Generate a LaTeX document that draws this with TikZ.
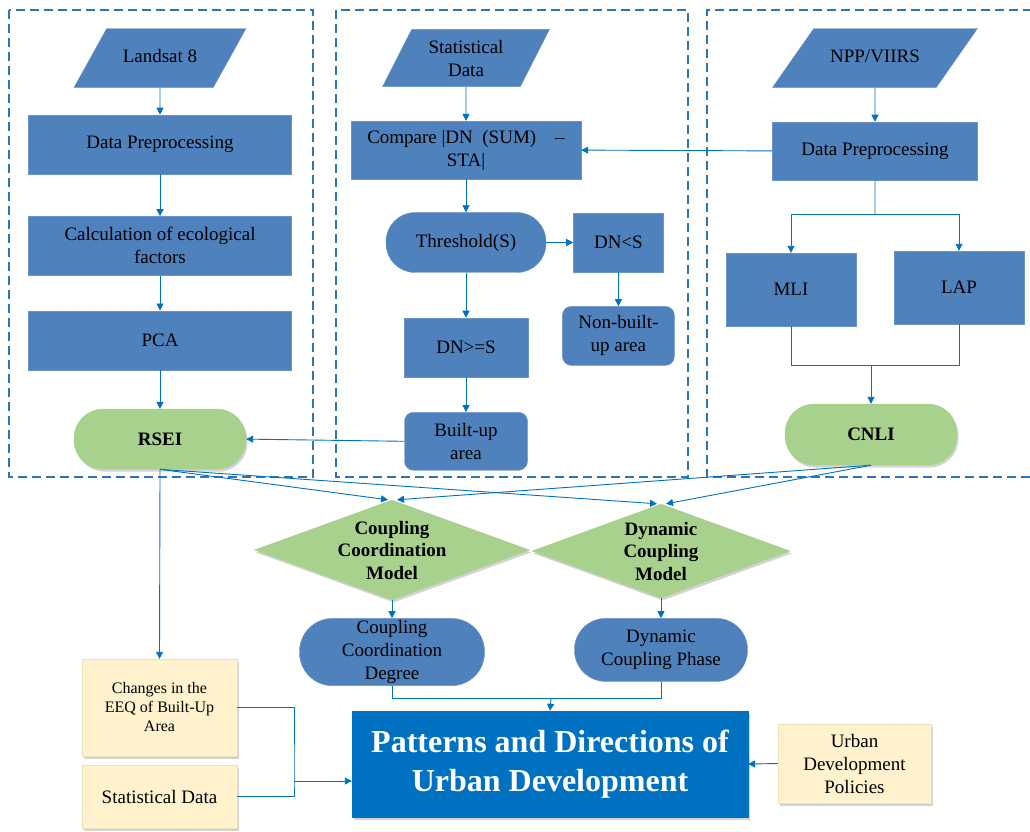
\documentclass[tikz,border=0pt]{standalone}
\usepackage{fontspec}
\setmainfont{Liberation Serif}
\usetikzlibrary{arrows.meta,positioning,shapes.geometric,shadows}
\definecolor{boxblue}{HTML}{4F81BD}
\definecolor{linkblue}{HTML}{0070C0}
\definecolor{dashblue}{HTML}{2E75B6}
\definecolor{leafgreen}{HTML}{A9D18E}
\definecolor{notecream}{HTML}{FFF2CC}
\tikzset{
	panel/.style={draw=dashblue, line width=1.3pt, dash pattern=on 9pt off 5pt},
	procbox/.style={
		rectangle, fill=boxblue, draw=boxblue!85!white,
		text=black, align=center, inner sep=2pt,
		font=\fontsize{19}{23}\selectfont
	},
	source/.style={
		procbox, trapezium, trapezium left angle=61, trapezium right angle=119,
		trapezium stretches body, inner xsep=2pt, inner ysep=21pt,
		text height=13pt, text depth=4pt
	},
	pill/.style={procbox, rounded corners=29pt},
	greenpill/.style={
		pill, fill=leafgreen, draw=leafgreen,
		font=\bfseries\fontsize{19}{23}\selectfont,
		drop shadow={shadow xshift=1.5pt, shadow yshift=-2.5pt, opacity=0.35}
	},
	decision/.style={
		diamond, fill=leafgreen, draw=leafgreen, inner sep=0pt,
		drop shadow={shadow xshift=1.5pt, shadow yshift=-2.5pt, opacity=0.35}
	},
	decisiontext/.style={font=\bfseries\fontsize{19}{22.5}\selectfont, align=center},
	notebox/.style={
		rectangle, fill=notecream, draw=notecream!80!black!40!notecream,
		text=black, align=center, inner sep=2pt,
		font=\fontsize{19}{23}\selectfont,
		drop shadow={shadow xshift=1.5pt, shadow yshift=-2.5pt, opacity=0.35}
	},
	mainbox/.style={
		rectangle, fill=linkblue, draw=linkblue, text=white, align=center,
		font=\bfseries\fontsize{32}{39}\selectfont,
		drop shadow={shadow xshift=1.5pt, shadow yshift=-2.5pt, opacity=0.35}
	},
	link/.style={draw=linkblue, line width=0.9pt},
	flow/.style={link, -{Triangle[width=7pt,length=7pt]}}
}
\begin{document}
\begin{tikzpicture}[x=1pt, y=-1pt]
	\useasboundingbox (0,0) rectangle (1030,831);
	\draw[panel] (9,10) rectangle (313,477);
	\draw[panel] (336,10) rectangle (688,477);
	\draw[panel] (1032,10) -- (707,10) -- (707,477) -- (1032,477);

	\node[source, minimum width=172pt] (landsat) at (160,58) {Landsat 8};
	\node[procbox, minimum width=263pt, minimum height=59pt, below=27pt of landsat] (prepL) {Data Preprocessing};
	\node[procbox, minimum width=263pt, minimum height=59pt, below=42pt of prepL] (factors) {Calculation of ecological\\factors};
	\node[procbox, minimum width=263pt, minimum height=59pt, below=35pt of factors] (pca) {PCA};
	\node[greenpill, minimum width=172pt, minimum height=60pt, below=39pt of pca] (rsei) {RSEI};

	\node[source, minimum width=167pt, trapezium left angle=63, trapezium right angle=117,
		text height=, text depth=, inner ysep=10.5pt] (stat) at (466,58) {Statistical\\Data};
	\node[procbox, minimum width=230pt, minimum height=58pt, below=34pt of stat] (compare) {Compare |DN\enspace(SUM)\quad--\\STA|};
	\node[pill, minimum width=160pt, minimum height=60pt, below=33pt of compare] (thresh) {Threshold(S)};
	\node[procbox, minimum width=90pt, minimum height=59pt, right=27pt of thresh] (dnless) {DN<S};
	\node[pill, rounded corners=9pt, minimum width=112pt, minimum height=59pt, below=34pt of dnless] (nonbuilt) {Non-built-\\up area};
	\node[procbox, minimum width=124pt, minimum height=59pt, below=45pt of thresh] (dnmore) {DN>=S};
	\node[pill, rounded corners=9pt, minimum width=123pt, minimum height=58pt, below=35pt of dnmore] (built) {Built-up\\area};

	\node[source, minimum width=205pt, trapezium left angle=55, trapezium right angle=125] (npp) at (875,58) {NPP/VIIRS};
	\node[procbox, minimum width=205pt, minimum height=58pt, below=34pt of npp] (prepR) {Data Preprocessing};
	\node[procbox, minimum width=130pt, minimum height=73pt] (mli) at (791,289.5) {MLI};
	\node[procbox, minimum width=130pt, minimum height=73pt] (lap) at (959,287.5) {LAP};
	\node[greenpill, minimum width=172pt, minimum height=61pt] (cnli) at (871,434.5) {CNLI};
	\coordinate (split) at (875,214);
	\coordinate (merge) at (871,365);

	\node[decision, minimum width=275pt, minimum height=100pt,
		label={[decisiontext]center:Coupling\\Coordination\\Model}] (ccm) at (392,550) {};
	\node[decision, minimum width=258pt, minimum height=94pt,
		label={[decisiontext]center:Dynamic\\Coupling\\Model}] (dcm) at (661,551) {};
	\node[pill, rounded corners=33pt, minimum width=185pt, minimum height=66pt, below=18pt of ccm] (ccd) {Coupling\\Coordination\\Degree};
	\node[pill, rounded corners=31pt, minimum width=173pt, minimum height=63pt, below=20pt of dcm] (dcp) {Dynamic\\Coupling Phase};
	\node[mainbox, minimum width=396pt, minimum height=106pt] (main) at (550,764) {Patterns and Directions of\\Urban Development};
	\node[notebox, minimum width=155pt, minimum height=97pt, font=\fontsize{16}{19}\selectfont] (eeq) at (159.5,707.5) {Changes in the\\EEQ of Built-Up\\Area};
	\node[notebox, minimum width=155pt, minimum height=63pt, below=9pt of eeq] (statnote) {Statistical Data};
	\node[notebox, minimum width=153pt, minimum height=79pt] (policy) at (854.5,763.5) {Urban\\Development\\Policies};
	\coordinate (meet) at (551,698);
	\coordinate (hub) at (294,781);

	\draw[flow] (landsat) -- (prepL);
	\draw[flow] (prepL) -- (factors);
	\draw[flow] (factors) -- (pca);
	\draw[flow] (pca) -- (rsei);
	\draw[flow] (stat) -- (compare);
	\draw[flow] (compare) -- (thresh);
	\draw[flow] (thresh) -- (dnless);
	\draw[flow] (dnless) -- (nonbuilt);
	\draw[flow] (thresh) -- (dnmore);
	\draw[flow] (dnmore) -- (built);
	\draw[flow] (built.west) -- (rsei.east);
	\draw[flow] (npp) -- (prepR);
	\draw[flow] (prepR.west) -- (compare.east);
	\draw[link] (prepR.south) -- (split);
	\draw[flow] (split) -| (mli.north);
	\draw[flow] (split) -| (lap.north);
	\draw[link] (mli.south) |- (merge) -| (lap.south);
	\draw[flow] (merge) -- (cnli.north);

	\draw[flow] (rsei.south) -- ([xshift=-4pt]ccm.north);
	\draw[flow] (rsei.south) -- ([xshift=-4pt]dcm.north);
	\draw[flow] (cnli.south) -- ([xshift=5pt]ccm.north);
	\draw[flow] (cnli.south) -- ([xshift=5pt]dcm.north);
	\draw[flow] (rsei.south) -- (eeq.north);
	\draw[flow] (ccm.south) -- (ccd.north);
	\draw[flow] (dcm.south) -- (dcp.north);
	\draw[link] (ccd.south) |- (meet) -| (dcp.south);
	\draw[flow] (meet) -- (main.north);
	\draw[link] (eeq.east) -| (hub) |- (statnote.east);
	\draw[flow] (hub) -- (hub -| main.west);
	\draw[flow] (policy.west) -- (main.east);
\end{tikzpicture}
\end{document}
